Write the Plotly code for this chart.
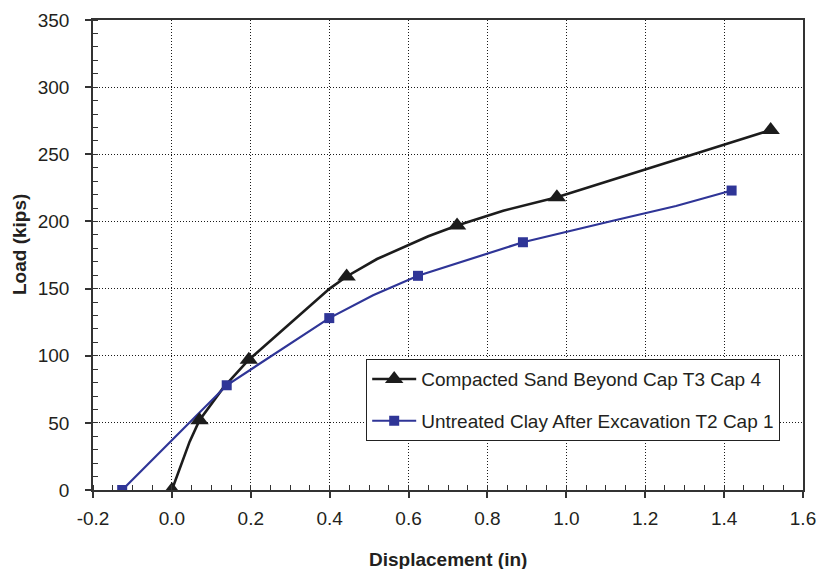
import plotly.graph_objects as go

# Load-displacement readings (displacement in inches, load in kips)
sand_path_disp = [0.0, 0.045, 0.07, 0.13, 0.195, 0.40, 0.443, 0.52, 0.65, 0.723, 0.84, 0.976, 1.518]
sand_path_load = [0.0, 36.0, 52.0, 76.0, 97.0, 150.0, 159.0, 172.0, 189.0, 197.0, 208.0, 218.0, 268.0]
sand_disp = [0.0, 0.07, 0.195, 0.443, 0.723, 0.976, 1.518]
sand_load = [0.0, 52.0, 97.0, 159.0, 197.0, 218.0, 268.0]

clay_path_disp = [-0.126, 0.139, 0.399, 0.51, 0.624, 0.797, 0.89, 1.118, 1.278, 1.419]
clay_path_load = [0.0, 78.0, 128.0, 145.0, 159.5, 176.0, 184.5, 200.5, 211.5, 223.0]
clay_disp = [-0.126, 0.139, 0.399, 0.624, 0.89, 1.419]
clay_load = [0.0, 78.0, 128.0, 159.5, 184.5, 223.0]

sand_name = "Compacted Sand Beyond Cap T3 Cap 4"
clay_name = "Untreated Clay After Excavation T2 Cap 1"

x_ticks = [-0.2, 0.0, 0.2, 0.4, 0.6, 0.8, 1.0, 1.2, 1.4, 1.6]
x_tick_text = ["-0.2", "0.0", "0.2", "0.4", "0.6", "0.8", "1.0", "1.2", "1.4", "1.6"]
y_ticks = [0, 50, 100, 150, 200, 250, 300, 350]

BLACK = "#1c1c1c"
BLUE = "#2f3597"
FONT = "Liberation Sans, Arial, sans-serif"

fig = go.Figure()

# Curves (all vertices) without markers
fig.add_trace(go.Scatter(x=sand_path_disp, y=sand_path_load, mode="lines",
                         line=dict(color=BLACK, width=2.6), showlegend=False,
                         hoverinfo="skip"))
fig.add_trace(go.Scatter(x=clay_path_disp, y=clay_path_load, mode="lines",
                         line=dict(color=BLUE, width=2.2), showlegend=False,
                         hoverinfo="skip"))

# Measured points
fig.add_trace(go.Scatter(x=sand_disp, y=sand_load, mode="markers",
                         marker=dict(symbol="triangle-up", size=16, color=BLACK),
                         showlegend=False))
fig.add_trace(go.Scatter(x=clay_disp, y=clay_load, mode="markers",
                         marker=dict(symbol="square", size=10, color=BLUE),
                         showlegend=False))

# Legend entries
fig.add_trace(go.Scatter(x=[None], y=[None], mode="lines+markers", name=sand_name,
                         line=dict(color=BLACK, width=2.6),
                         marker=dict(symbol="triangle-up", size=16, color=BLACK),
                         legendgroup="a"))
fig.add_trace(go.Scatter(x=[None], y=[None], mode="lines+markers", name=clay_name,
                         line=dict(color=BLUE, width=2.2),
                         marker=dict(symbol="square", size=10, color=BLUE),
                         legendgroup="b"))

axis_common = dict(
    showline=True, linecolor="#333333", linewidth=1.5, mirror=True,
    showgrid=True, gridcolor="#1a1a1a", gridwidth=1, griddash="1px,2px",
    ticks="outside", ticklen=6, tickwidth=1.5, tickcolor="#333333",
    tickfont=dict(family=FONT, size=19, color="#231f20"),
    zeroline=False, automargin=False,
)

fig.update_xaxes(range=[-0.2, 1.6], tickvals=x_ticks, ticktext=x_tick_text,
                 minor=dict(dtick=0.05, ticks="inside", ticklen=5, tickwidth=1.2,
                            tickcolor="#333333", showgrid=False),
                 ticklabelstandoff=4, **axis_common)
fig.update_yaxes(range=[0, 350], tickvals=y_ticks,
                 minor=dict(dtick=10, ticks="inside", ticklen=5, tickwidth=1.2,
                            tickcolor="#333333", showgrid=False),
                 ticklabelstandoff=12, **axis_common)

fig.add_annotation(text="<b>Displacement (in)</b>", xref="paper", yref="paper",
                   x=0.5, y=0, xanchor="center", yanchor="top", yshift=-57,
                   showarrow=False, font=dict(family=FONT, size=19, color="#231f20"))
fig.add_annotation(text="<b>Load (kips)</b>", xref="paper", yref="paper",
                   x=0, y=0.5213, xanchor="center", yanchor="middle", xshift=-73,
                   textangle=-90, showarrow=False,
                   font=dict(family=FONT, size=19, color="#231f20"))

fig.update_layout(
    width=817, height=569,
    margin=dict(l=93, r=14, t=20, b=79),
    paper_bgcolor="white", plot_bgcolor="white",
    font=dict(family=FONT, size=19, color="#231f20"),
    legend=dict(x=0.3845, y=0.2787, xanchor="left", yanchor="top",
                bgcolor="white", bordercolor="#222222", borderwidth=1.2,
                font=dict(family=FONT, size=19, color="#231f20"),
                tracegroupgap=14, itemwidth=44),
)

fig.write_html("out.html")
